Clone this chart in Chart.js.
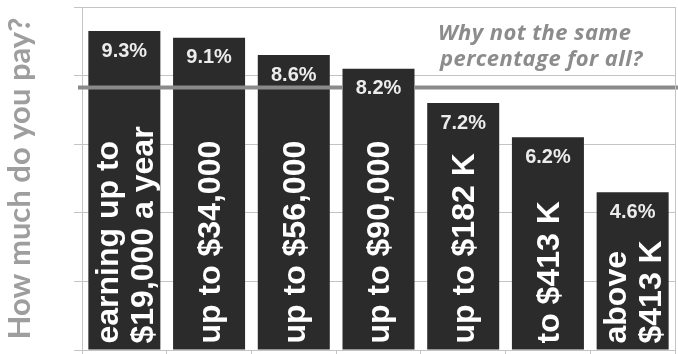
<!DOCTYPE html>
<html>
<head>
<meta charset="utf-8">
<script src="https://cdn.jsdelivr.net/npm/chart.js@4.4.1/dist/chart.umd.min.js"></script>
<style>
  html, body { margin: 0; padding: 0; background: #fff; }
  #wrap { width: 678px; height: 354px; }
</style>
</head>
<body>
<div id="wrap"><canvas id="chart" width="678" height="354"></canvas></div>
<script>
// income brackets, one entry per text line inside the bar
const brackets = [
  ["earning up to", "$19,000 a year"],
  ["up to $34,000"],
  ["up to $56,000"],
  ["up to $90,000"],
  ["up to $182 K"],
  ["to $413 K"],
  ["above", "$413 K"]
];
const rates = [9.3, 9.1, 8.6, 8.2, 7.2, 6.2, 4.6];
const rateLabels = ["9.3%", "9.1%", "8.6%", "8.2%", "7.2%", "6.2%", "4.6%"];
const flatRate = 7.65;
const yTicks = [0, 2, 4, 6, 8, 10];
const note = ["Why not the same", "percentage for all?"];

const gridColor = "#c4c4c4";
const barColor = "#2b2b2b";

// texte dans les barres, ligne du taux unique, encadré
const overlay = {
  id: "overlay",
  afterDatasetsDraw(chart) {
    const ctx = chart.ctx;
    const area = chart.chartArea;
    const meta = chart.getDatasetMeta(0);
    const lineY = chart.scales.y.getPixelForValue(flatRate);

    // ligne grise, cachée derrière la barre dont l'étiquette tombe dessus
    ctx.save();
    ctx.beginPath();
    ctx.rect(0, 0, chart.width, chart.height);
    meta.data.forEach(bar => {
      if (Math.abs(bar.y + 20 - lineY) < 12) {
        ctx.rect(bar.x - bar.width / 2, bar.y, bar.width, bar.base - bar.y);
      }
    });
    ctx.clip("evenodd");
    ctx.strokeStyle = "#8a8a8a";
    ctx.lineWidth = 4;
    ctx.beginPath();
    ctx.moveTo(area.left - 4, lineY);
    ctx.lineTo(chart.width, lineY);
    ctx.stroke();
    ctx.restore();

    ctx.save();
    meta.data.forEach((bar, i) => {
      // valeur en haut
      ctx.fillStyle = "#ececec";
      ctx.font = "bold 20px 'Liberation Sans', Arial, sans-serif";
      ctx.textAlign = "center";
      ctx.textBaseline = "middle";
      ctx.fillText(rateLabels[i], bar.x, bar.y + 20);

      // tranche, verticale
      const lines = brackets[i];
      ctx.save();
      ctx.translate(bar.x, bar.base - 6);
      ctx.rotate(-Math.PI / 2);
      ctx.fillStyle = "#ffffff";
      ctx.font = "bold 32px 'Liberation Sans', Arial, sans-serif";
      ctx.textAlign = "left";
      ctx.textBaseline = "middle";
      lines.forEach((t, k) => {
        const off = (k - (lines.length - 1) / 2) * 35;
        ctx.fillText(t, 0, off + 2);
      });
      ctx.restore();
    });
    ctx.restore();
  },
  afterDraw(chart) {
    const ctx = chart.ctx;
    const area = chart.chartArea;
    ctx.save();
    ctx.strokeStyle = gridColor;
    ctx.lineWidth = 1;
    ctx.beginPath();
    ctx.moveTo(area.right + 0.5, area.top);
    ctx.lineTo(area.right + 0.5, area.bottom);
    ctx.stroke();

    ctx.fillStyle = "#8c8c8c";
    ctx.font = "italic bold 22px 'Open Sans', Lato, sans-serif";
    ctx.letterSpacing = "0.4px";
    ctx.textAlign = "left";
    ctx.textBaseline = "alphabetic";
    ctx.fillText(note[0], 438, 40);
    ctx.fillText(note[1], 440, 66);
    ctx.restore();
  }
};

new Chart(document.getElementById("chart"), {
  type: "bar",
  data: {
    labels: brackets.map(b => b.join(" ")),
    datasets: [{
      data: rates,
      backgroundColor: barColor,
      borderWidth: 0,
      barPercentage: 0.85,
      categoryPercentage: 1
    }]
  },
  options: {
    responsive: false,
    animation: false,
    devicePixelRatio: 1,
    layout: { padding: { top: 7, right: 3, bottom: 0, left: 0 } },
    plugins: {
      legend: { display: false },
      tooltip: { enabled: false }
    },
    scales: {
      x: {
        grid: { drawOnChartArea: false, drawTicks: true, tickLength: 4, color: gridColor },
        border: { display: true, color: gridColor },
        ticks: { display: false }
      },
      y: {
        min: yTicks[0],
        max: yTicks[yTicks.length - 1],
        afterFit(scale) { scale.width = 82; },
        afterBuildTicks(scale) { scale.ticks = yTicks.map(v => ({ value: v })); },
        grid: { color: gridColor, tickLength: 8 },
        border: { display: true, color: gridColor },
        ticks: { display: false },
        title: {
          display: true,
          text: "How much do you pay?",
          color: "#9e9e9e",
          font: { family: "Lato, 'Open Sans', sans-serif", size: 31, weight: "bold" },
          padding: { top: 1, bottom: 0 }
        }
      }
    }
  },
  plugins: [overlay]
});
</script>
</body>
</html>
